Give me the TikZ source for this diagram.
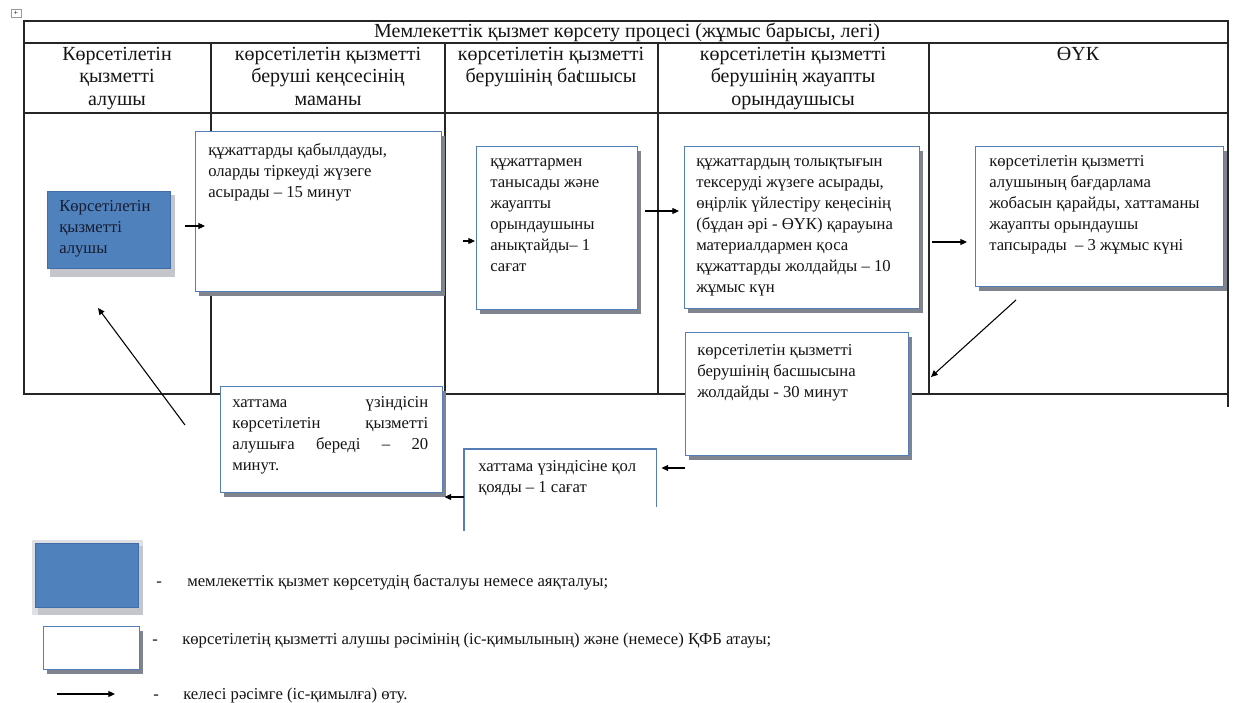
\documentclass[tikz,border=0pt]{standalone}
\usepackage{fontspec}
\setmainfont{Liberation Serif}
\usetikzlibrary{arrows.meta,calc}
\definecolor{bxborder}{RGB}{84,126,180}
\definecolor{shadowc}{RGB}{128,132,142}
\definecolor{bluefill}{RGB}{79,129,189}
\definecolor{blueedge}{RGB}{66,110,168}
\definecolor{blueshadow}{RGB}{196,198,204}
\definecolor{glowc}{RGB}{222,224,230}
\definecolor{txtc}{RGB}{20,20,20}
\definecolor{bluetxt}{RGB}{22,28,48}
\newcommand\procbox[5]{%
  \fill[shadowc] (#2+4,#3+5) rectangle (#4+4,#5+5);
  \node[pbox, minimum width={(#4-#2)*0.75pt}, minimum height={(#5-#3)*0.75pt}] (#1) at (#2,#3) {};
}
\begin{document}
\begin{tikzpicture}[x=0.75pt,y=-0.75pt,
  tbl/.style={line width=0.9pt, draw=black!85},
  pbox/.style={draw=bxborder, line width=1.1pt, fill=white, anchor=north west, inner sep=0pt},
  btxt/.style={font=\fontsize{12.5}{15.75}\selectfont, align=left, inner sep=0pt, text=txtc, anchor=north west},
  hdr/.style={font=\fontsize{15}{16.9}\selectfont, align=center, inner sep=0pt, anchor=north, text=txtc},
  lgtxt/.style={font=\fontsize{12.5}{15}\selectfont, inner sep=0pt, anchor=base west, text=txtc},
  arr/.style={draw=black, line width=0.8pt, -{Triangle[length=5pt,width=4.5pt]}}]
\useasboundingbox (0,0) rectangle (1233,703);
\fill[white] (0,0) rectangle (1233,703);
% table handle
\node[draw=black!40, line width=0.4pt, fill=white, minimum width=7.5pt, minimum height=6pt, inner sep=0pt, font=\fontsize{6}{6}\selectfont] (handle) at (16,13) {+};
% table
\draw[tbl] (24,21) rectangle (1228,43);
\draw[tbl] (24,43) -- (24,394) -- (1228,394);
\draw[tbl] (1228,43) -- (1228,407);
\draw[tbl] (24,113) -- (1228,113);
\foreach \cx in {211,445,658,929} \draw[tbl] (\cx,43) -- (\cx,394);
\draw[black!80, line width=0.5pt] (579,70) -- (579,82);
% title and headers
\node[font=\fontsize{15}{17}\selectfont, inner sep=0pt, anchor=base, text=txtc] (title) at (627,37) {Мемлекеттік қызмет көрсету процесі (жұмыс барысы, легі)};
\node[hdr] (h1) at (117,44) {\strut Көрсетілетін\\ қызметті\\ алушы};
\node[hdr] (h2) at (328,44) {\strut көрсетілетін қызметті\\ беруші кеңсесінің\\ маманы};
\node[hdr] (h3) at (551,44) {\strut көрсетілетін қызметті\\ берушінің басшысы};
\node[hdr] (h4) at (793,44) {\strut көрсетілетін қызметті\\ берушінің жауапты\\ орындаушысы};
\node[hdr] (h5) at (1078,44) {\strut ӨҮК};
% start box (blue)
\fill[blueshadow] (50,195) rectangle (175,277);
\node[draw=blueedge, line width=0.8pt, fill=bluefill, anchor=north west, inner sep=0pt, minimum width={123*0.75pt}, minimum height={77*0.75pt}] (B0) at (47,191) {};
\node[btxt, text=bluetxt] (B0t) at (59,197) {\strut Көрсетілетін\\ қызметті\\ алушы};
% process boxes
\procbox{B1}{195}{131}{441}{291}
\node[btxt] (B1t) at (208,141) {\strut құжаттарды қабылдауды,\\ оларды тіркеуді жүзеге\\ асырады – 15 минут};
\procbox{B2}{476}{146}{637}{309}
\node[btxt] (B2t) at (490,152) {\strut құжаттармен\\ танысады және\\ жауапты\\ орындаушыны\\ анықтайды– 1\\ сағат};
\procbox{B3}{684}{146}{919}{308}
\node[btxt] (B3t) at (696,152) {\strut құжаттардың толықтығын\\ тексеруді жүзеге асырады,\\ өңірлік үйлестіру кеңесінің\\ (бұдан әрі - ӨҮК) қарауына\\ материалдармен қоса\\ құжаттарды жолдайды – 10\\ жұмыс күн};
\procbox{B4}{975}{146}{1223}{286}
\node[btxt] (B4t) at (989,152) {\strut көрсетілетін қызметті\\ алушының бағдарлама\\ жобасын қарайды, хаттаманы\\ жауапты орындаушы\\ тапсырады\ \ – 3 жұмыс күні};
\procbox{B5}{685}{332}{908}{455}
\node[btxt] (B5t) at (697,341) {\strut көрсетілетін қызметті\\ берушінің басшысына\\ жолдайды - 30 минут};
% open box
\node[inner sep=0pt, anchor=north west, minimum width={192*0.75pt}, minimum height={81*0.75pt}] (B6) at (464,449) {};
\draw[draw=bxborder, line width=1.1pt] (B6.south west) -- (B6.north west) -- (B6.north east) -- ($(B6.north east)+(0,58)$);
\node[btxt] (B6t) at (478,457) {\strut хаттама үзіндісіне қол\\ қояды – 1 сағат};
\procbox{B7}{220}{386}{442}{492}
\node[btxt, text width=147pt] (B7t) at (232,393) {\strut хаттама\hfill үзіндісін\\ көрсетілетін\hfill қызметті\\ алушыға\hfill береді\hfill –\hfill 20\\ минут.};
% connectors
\coordinate (a1s) at (185,226);
\draw[arr] (a1s) -- ($(a1s -| B1.west)+(10,0)$);
\coordinate (a2s) at (463,241);
\draw[arr] (a2s) -- ($(a2s -| B2.west)+(-1,0)$);
\coordinate (a3s) at (645,211);
\draw[arr] (a3s) -- ($(a3s -| B3.west)+(-5,0)$);
\coordinate (a4s) at (932,242);
\draw[arr] (a4s) -- ($(a4s -| B4.west)+(-8,0)$);
\coordinate (a5s) at (1016,300);
\coordinate (a5e) at (931,377);
\draw[arr] (a5s) -- (a5e);
\coordinate (a6s) at (685,468);
\draw[arr] (a6s) -- ($(a6s -| B6.east)+(5,0)$);
\coordinate (a7s) at (464,497);
\draw[arr] (a7s) -- ($(a7s -| B7.east)+(1,0)$);
\coordinate (a8s) at (185,425);
\coordinate (a8e) at (98,308);
\draw[arr] (a8s) -- (a8e);
% legend
\fill[glowc] (32,540) rectangle (143,615);
\fill[blueshadow] (38,608) rectangle (143,615);
\fill[blueshadow] (138,546) rectangle (143,615);
\node[draw=blueedge, line width=0.6pt, fill=bluefill, anchor=north west, inner sep=0pt, minimum width={103*0.75pt}, minimum height={64*0.75pt}] (LB) at (35,543) {};
\node[lgtxt] (LBd) at (156,586) {-};
\node[lgtxt] (LBt) at (187,586) {мемлекеттік қызмет көрсетудің басталуы немесе аяқталуы;};
\procbox{LW}{43}{626}{139}{669}
\node[lgtxt] (LWd) at (152,644) {-};
\node[lgtxt] (LWt) at (182,644) {көрсетілетің қызметті алушы рәсімінің (іс-қимылының) және (немесе) ҚФБ атауы;};
\coordinate (las) at (57,694);
\coordinate (lae) at (115,694);
\draw[arr] (las) -- (lae);
\node[lgtxt] (LAd) at (153,699) {-};
\node[lgtxt] (LAt) at (183,699) {келесі рәсімге (іс-қимылға) өту.};
\end{tikzpicture}
\end{document}
